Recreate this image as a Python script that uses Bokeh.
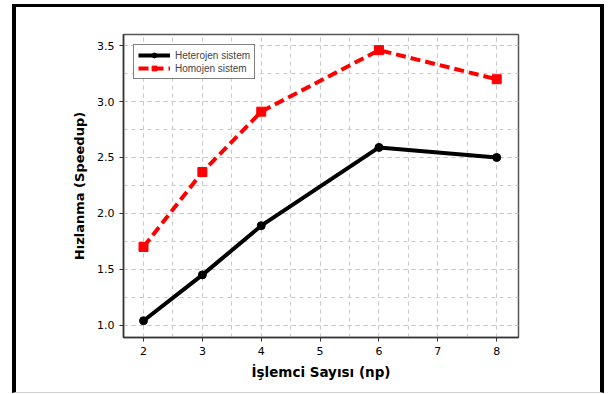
from bokeh.plotting import figure
from bokeh.models import SingleIntervalTicker, Range1d, NumeralTickFormatter
from bokeh.embed import file_html
from bokeh.resources import INLINE

np_counts = [2, 3, 4, 6, 8]
heterojen = [1.04, 1.45, 1.89, 2.59, 2.50]
homojen = [1.70, 2.37, 2.91, 3.46, 3.20]

p = figure(width=592, height=389, output_backend="svg", toolbar_location=None,
           x_range=Range1d(1.66, 8.37), y_range=Range1d(0.89, 3.60),
           min_border_left=107, min_border_right=90, min_border_top=27, min_border_bottom=59,
           styles={"margin-left": "12px", "margin-top": "4px",
                   "border-left": "4px solid black", "border-right": "4px solid black",
                   "border-top": "3px solid black", "border-bottom": "1px solid #d0d0d0",
                   "box-sizing": "border-box"})

p.xaxis.ticker = SingleIntervalTicker(interval=1, num_minor_ticks=2)
p.yaxis.ticker = SingleIntervalTicker(interval=0.5, num_minor_ticks=2)
p.yaxis.formatter = NumeralTickFormatter(format="0.0")

for g in (p.xgrid, p.ygrid):
    g.grid_line_color = "#c8c8c8"
    g.grid_line_dash = "4 4"
    g.grid_line_width = 1
    g.minor_grid_line_color = "#c8c8c8"
    g.minor_grid_line_dash = "4 4"
    g.minor_grid_line_width = 1

for ax in (p.xaxis, p.yaxis):
    ax.axis_line_color = "#333333"
    ax.axis_line_width = 1.5
    ax.major_tick_line_color = "#333333"
    ax.major_tick_in = 0
    ax.major_tick_out = 4
    ax.minor_tick_line_color = None
    ax.major_label_text_font = "DejaVu Sans"
    ax.major_label_text_font_size = "11px"
    ax.major_label_text_color = "#000000"
    ax.axis_label_text_font = "DejaVu Sans"
    ax.axis_label_text_font_style = "bold"
    ax.axis_label_text_color = "#000000"
    ax.axis_label_standoff = 7

p.xaxis.axis_label_text_font_size = "13.5px"
p.yaxis.axis_label_text_font_size = "13px"
p.xaxis.axis_label_standoff = 6
p.xaxis.axis_label = "İşlemci Sayısı (np)"
p.yaxis.axis_label = "Hızlanma (Speedup)"

p.outline_line_color = "#555555"
p.outline_line_width = 1.5

p.line(np_counts, heterojen, line_color="black", line_width=4, legend_label="Heterojen sistem")
p.scatter(np_counts, heterojen, marker="circle", size=8, color="black", legend_label="Heterojen sistem")
p.line(np_counts, homojen, line_color="#ff0000", line_width=4, line_dash="10 5", legend_label="Homojen sistem")
p.scatter(np_counts, homojen, marker="square", size=9, color="#ff0000", legend_label="Homojen sistem")

lg = p.legend[0]
lg.location = "top_left"
lg.margin = 10
lg.border_line_color = "black"
lg.border_line_width = 1
lg.label_text_font = "Liberation Sans"
lg.label_text_font_size = "10px"
lg.glyph_width = 32
lg.glyph_height = 12
lg.label_height = 12
lg.label_standoff = 5
lg.padding = 4
lg.spacing = 1
lg.background_fill_alpha = 1

open("out.html", "w").write(file_html(p, INLINE))
